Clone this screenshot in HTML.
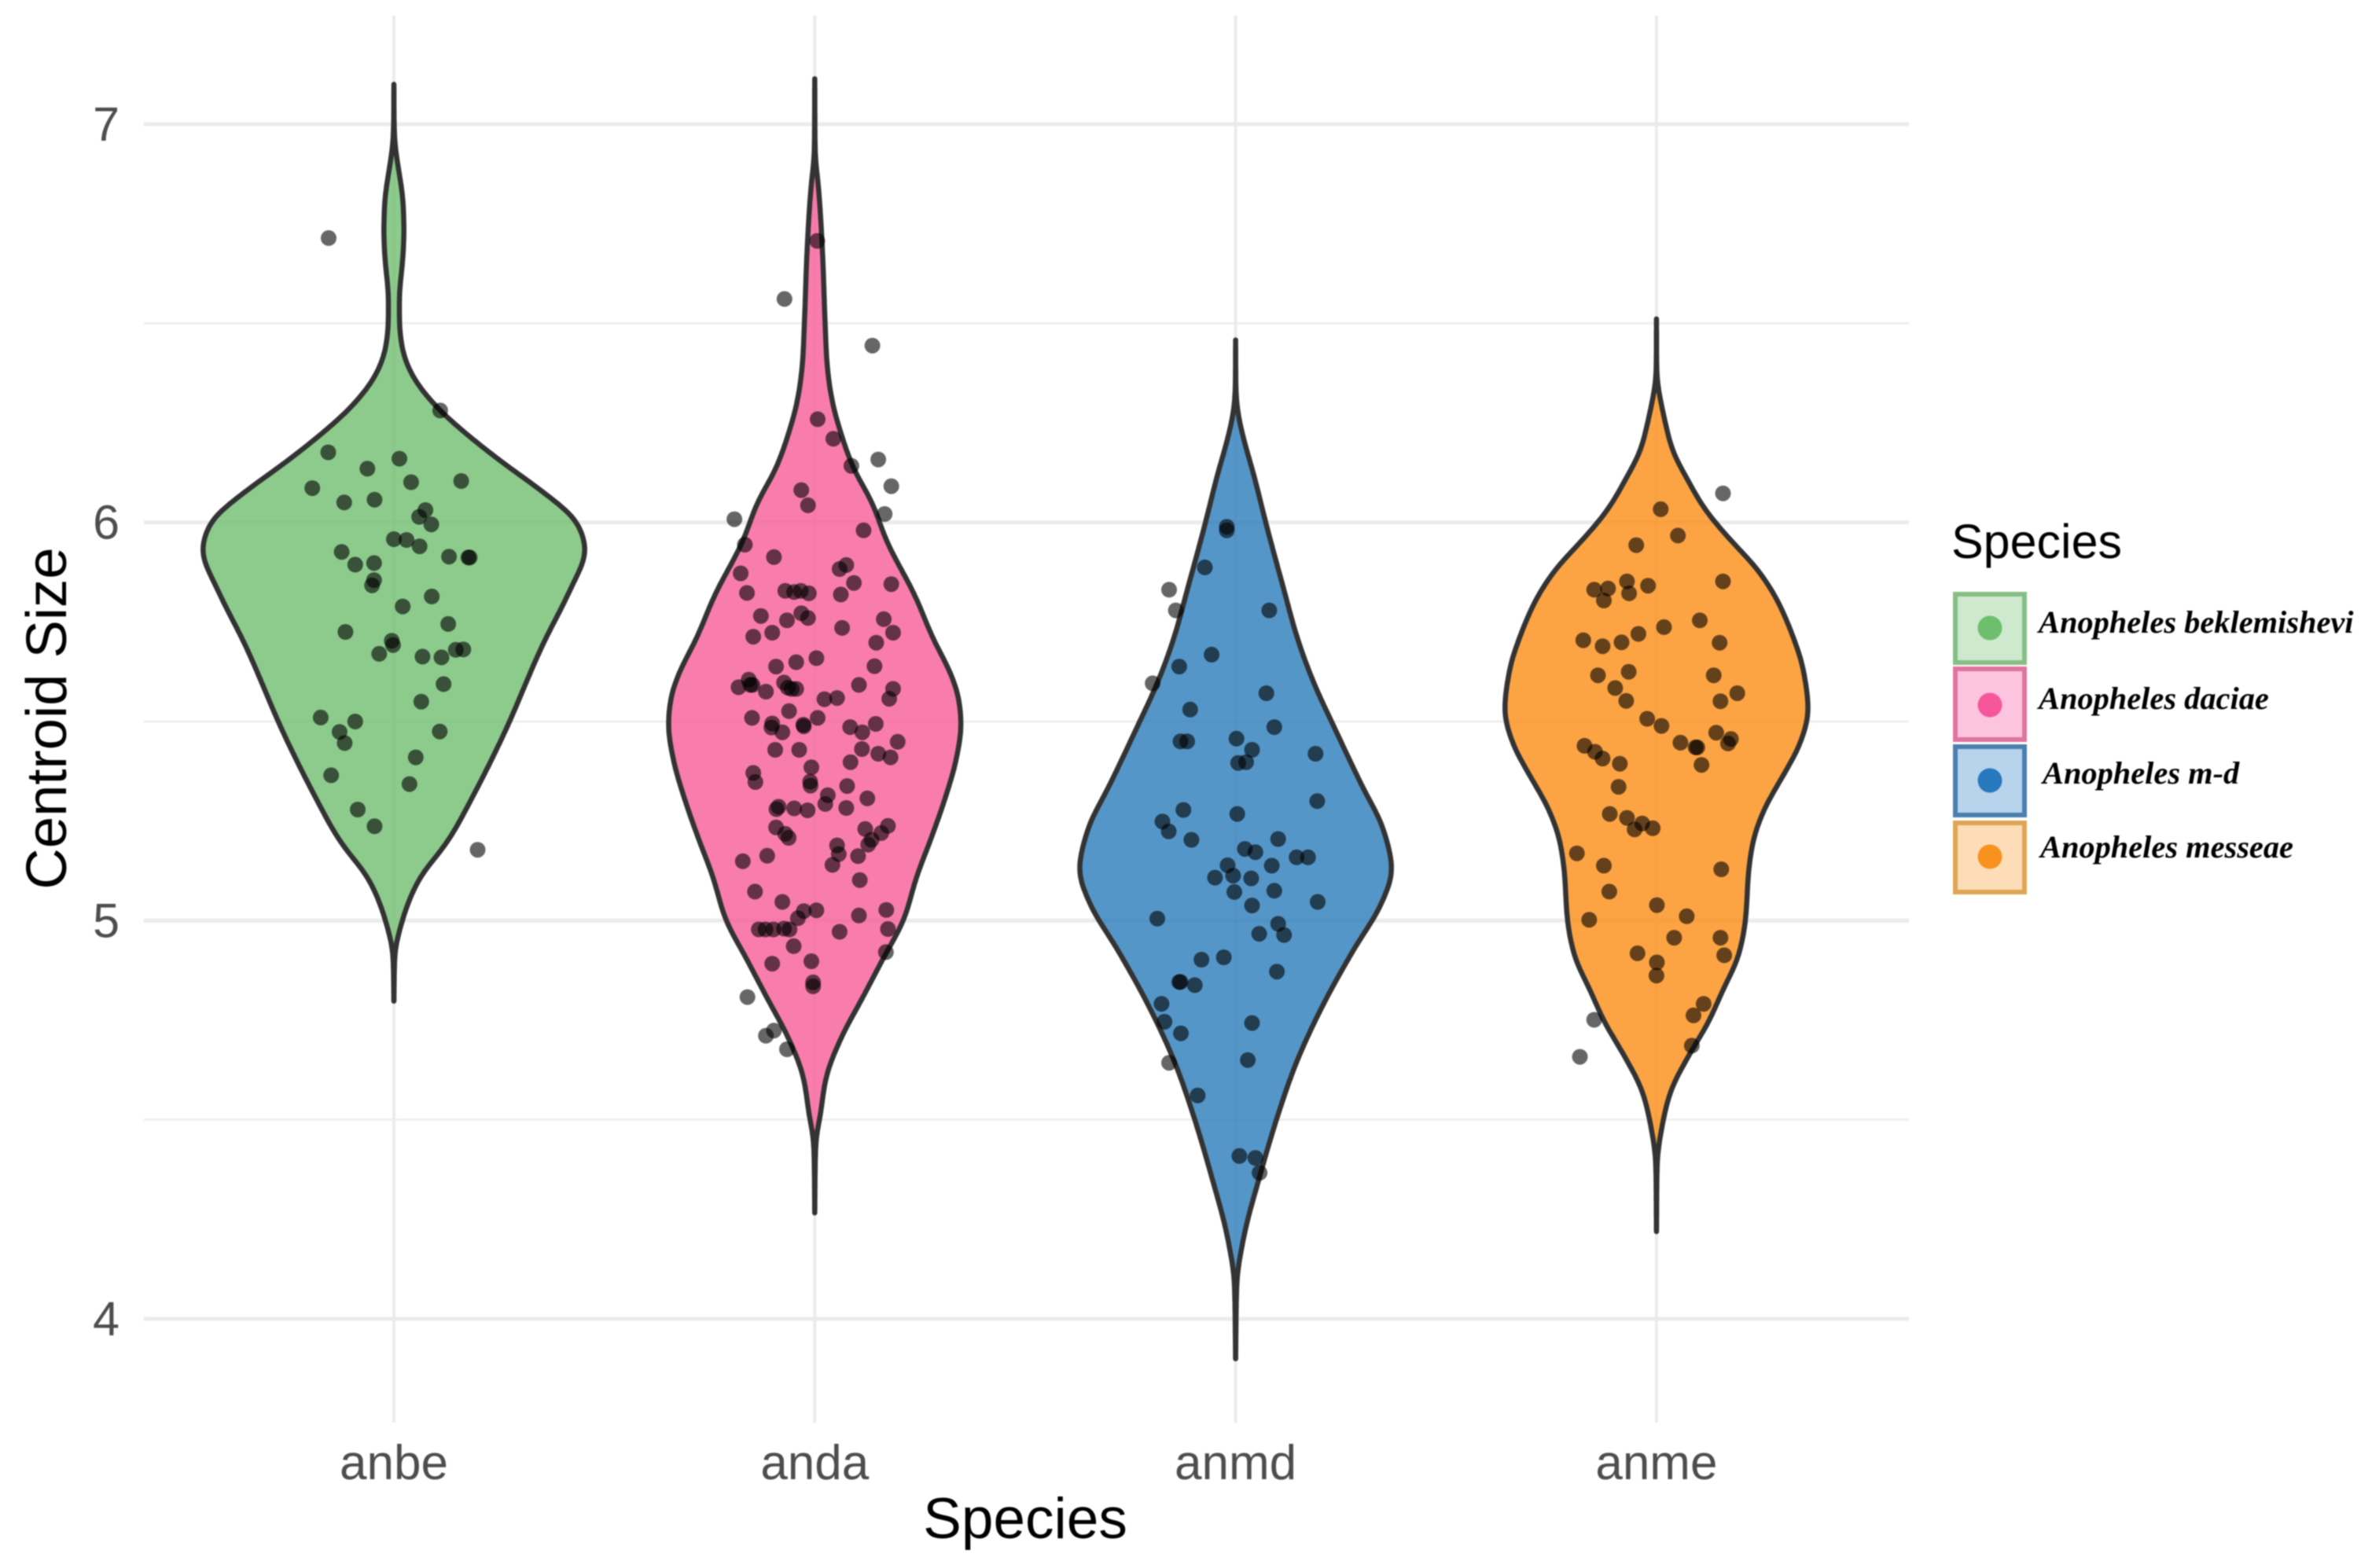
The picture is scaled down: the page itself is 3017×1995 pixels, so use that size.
<!DOCTYPE html>
<html>
<head>
<meta charset="utf-8">
<title>Centroid Size by Species</title>
<style>
html,body{margin:0;padding:0;background:#fff;}
svg{display:block;filter:blur(0.7px);}
text{font-family:"Liberation Sans",sans-serif;}
.legend-label{font-family:"Liberation Serif",serif;font-weight:bold;font-style:italic;font-size:40.4px;fill:#000;}
</style>
</head>
<body>
<svg id="chart" xmlns="http://www.w3.org/2000/svg" width="3017" height="1995" viewBox="0 0 3017 1995">
<rect x="0" y="0" width="3017" height="1995" fill="#ffffff"/>
<g id="grid"></g>
<g id="violins"></g>
<g id="points"></g>
<g id="axes"></g>
<text x="1304" y="1957" font-size="73" text-anchor="middle" fill="#000">Species</text>
<text transform="translate(84,914) rotate(-90)" font-size="72.5" text-anchor="middle" fill="#000">Centroid Size</text>
<g>
<text x="2482" y="710" font-size="61" fill="#000">Species</text>
<g>
<rect x="2487" y="756" width="88" height="87" fill="#CFE9CF" stroke="#85BF85" stroke-width="6"/>
<circle cx="2531" cy="799" r="15.5" fill="#6DBE6D"/>
<text class="legend-label" x="2593" y="805">Anopheles beklemishevi</text>
</g>
<g>
<rect x="2487" y="851" width="88" height="90" fill="#FCC4DF" stroke="#E0749E" stroke-width="6"/>
<circle cx="2531" cy="897" r="15.5" fill="#F5579A"/>
<text class="legend-label" x="2593" y="902">Anopheles daciae</text>
</g>
<g>
<rect x="2487" y="950" width="88" height="87" fill="#B8D3EC" stroke="#4A7FAE" stroke-width="6"/>
<circle cx="2531" cy="993" r="15.5" fill="#2878BE"/>
<text class="legend-label" x="2598" y="997">Anopheles m-d</text>
</g>
<g>
<rect x="2487" y="1047" width="88" height="88" fill="#FCDDB8" stroke="#E0A455" stroke-width="6"/>
<circle cx="2531" cy="1090" r="15.5" fill="#F8921E"/>
<text class="legend-label" x="2595" y="1091">Anopheles messeae</text>
</g>
</g>
</svg>
<script>
const categories = ['anbe','anda','anmd','anme'];
const yTickValues = [4,5,6,7];
const yMinorValues = [4.5,5.5,6.5];
const seriesColors = ['#71BE71','#F75D97','#2B7CBA','#FB8D15'];

const anbeDensityY = [7.100,6.975,6.928,6.881,6.803,6.725,6.647,6.569,6.507,6.429,6.374,6.288,6.218,6.156,6.070,6.000,5.930,5.836,5.696,5.461,5.321,5.196,5.103,4.993,4.915,4.798];
const anbeDensityW = [0,0.001,0.005,0.012,0.022,0.024,0.020,0.013,0.013,0.021,0.041,0.103,0.177,0.251,0.362,0.436,0.456,0.421,0.355,0.258,0.192,0.126,0.059,0.018,0.002,0];
const andaDensityY = [7.114,6.929,6.841,6.665,6.488,6.400,6.312,6.224,6.136,6.048,5.960,5.812,5.711,5.610,5.560,5.490,5.409,5.308,5.208,5.107,5.006,4.906,4.805,4.704,4.603,4.503,4.452,4.382,4.266];
const andaDensityW = [0,0.001,0.009,0.019,0.025,0.029,0.040,0.062,0.092,0.137,0.168,0.240,0.280,0.327,0.342,0.348,0.337,0.310,0.277,0.241,0.213,0.163,0.113,0.062,0.026,0.012,0.003,0.001,0];
const anmdDensityY = [6.458,6.321,6.272,6.206,6.124,5.994,5.830,5.715,5.584,5.502,5.339,5.224,5.126,5.044,4.930,4.766,4.635,4.520,4.357,4.193,4.095,3.900];
const anmdDensityW = [0,0.001,0.006,0.020,0.042,0.073,0.115,0.145,0.191,0.227,0.300,0.353,0.372,0.347,0.282,0.197,0.141,0.103,0.057,0.017,0.003,0];
const anmeDensityY = [6.511,6.366,6.321,6.260,6.184,6.109,6.033,5.958,5.882,5.807,5.731,5.625,5.527,5.444,5.368,5.277,5.202,5.126,5.005,4.915,4.824,4.748,4.658,4.567,4.476,4.401,4.219];
const anmeDensityW = [0,0.001,0.007,0.019,0.037,0.073,0.115,0.174,0.240,0.286,0.318,0.350,0.361,0.341,0.303,0.255,0.230,0.219,0.212,0.196,0.157,0.125,0.075,0.032,0.012,0.002,0];

const anbeJitter = [-0.155,0.199,0.110,-0.156,-0.063,0.013,0.041,0.160,-0.194,-0.118,-0.046,0.075,0.060,0.089,0,0.030,0.061,-0.124,-0.092,-0.047,0.131,0.177,0.180,-0.047,-0.052,0.090,0.021,0.129,-0.115,-0.005,-0.002,-0.035,0.068,0.113,0.147,0.165,0.118,0.065,-0.174,-0.092,-0.129,-0.117,0.109,0.052,-0.149,0.037,-0.086,-0.046];
const anbeValues = [6.714,5.178,6.281,6.176,6.135,6.160,6.101,6.104,6.086,6.050,6.057,6.031,6.014,5.995,5.958,5.956,5.940,5.926,5.894,5.898,5.914,5.912,5.912,5.855,5.842,5.814,5.789,5.745,5.725,5.703,5.692,5.670,5.663,5.661,5.680,5.681,5.594,5.550,5.510,5.500,5.474,5.446,5.475,5.410,5.365,5.343,5.279,5.237];

const andaJitter = [-0.072,0.137,0.006,0.007,0.044,0.087,0.151,0.182,0.166,-0.032,-0.016,-0.191,0.116,-0.166,-0.097,-0.176,0.059,0.075,0.093,0.182,-0.161,-0.070,-0.049,-0.033,-0.014,0.062,
-0.128,-0.066,-0.032,-0.016,0.065,0.164,0.186,-0.101,-0.146,0.146,0.004,-0.044,-0.092,0.142,-0.073,-0.064,-0.055,-0.044,-0.157,-0.153,-0.181,-0.148,-0.116,0.105,0.186,0.177,0.023,0.053,-0.061,-0.149,0.007,-0.101,-0.103,-0.077,-0.027,-0.026,0.084,0.113,0.145,0.197,-0.094,-0.037,0.112,0.151,0.180,0.085,-0.146,-0.141,-0.008,-0.011,-0.010,0.031,0.025,0.077,0.125,0.075,-0.086,-0.091,-0.049,-0.017,-0.092,-0.070,-0.062,0.120,0.174,0.158,0.135,0.127,0.053,0.057,0.042,0.103,-0.113,-0.171,0.107,-0.142,-0.077,0.004,-0.026,-0.040,0.105,0.170,0.174,0.059,-0.133,-0.117,-0.098,-0.073,-0.060,-0.050,0.169,-0.101,-0.008,-0.004,-0.004,-0.160,-0.097,-0.116,-0.066];
const andaValues = [6.561,6.444,6.707,6.259,6.210,6.142,6.158,6.091,6.021,6.081,6.043,6.008,5.980,5.944,5.913,5.872,5.883,5.893,5.848,5.845,5.823,5.828,5.825,5.828,5.822,5.819,
5.765,5.754,5.772,5.760,5.735,5.757,5.723,5.723,5.713,5.698,5.659,5.649,5.638,5.639,5.598,5.585,5.582,5.582,5.605,5.592,5.586,5.592,5.575,5.592,5.582,5.557,5.556,5.559,5.526,5.509,5.509,5.495,5.485,5.473,5.492,5.488,5.486,5.473,5.494,5.449,5.429,5.429,5.431,5.419,5.410,5.398,5.371,5.348,5.385,5.349,5.339,5.315,5.293,5.338,5.307,5.283,5.286,5.280,5.282,5.277,5.234,5.218,5.208,5.230,5.238,5.220,5.203,5.191,5.189,5.167,5.140,5.162,5.163,5.149,5.102,5.073,5.047,5.026,5.024,5.006,5.013,5.027,4.979,4.972,4.978,4.978,4.978,4.980,4.978,4.936,4.921,4.892,4.898,4.845,4.835,4.808,4.724,4.711,4.677];

const anmdJitter = [-0.021,-0.021,-0.073,-0.158,-0.142,0.080,-0.057,-0.134,-0.197,0.073,-0.108,0.092,-0.131,-0.115,0.002,0.039,0.006,0.025,0.190,0.194,-0.124,0.004,-0.174,-0.159,-0.105,0.101,0.022,0.047,0.145,0.172,-0.019,0.086,-0.006,-0.049,0.037,-0.003,0.092,0.039,0.195,-0.186,0.101,0.115,0.056,-0.028,-0.081,0.098,-0.134,-0.131,-0.097,-0.176,-0.169,-0.130,0.039,0.029,-0.158,-0.090,0.009,0.047,0.057];
const anmdValues = [5.989,5.980,5.887,5.831,5.779,5.779,5.668,5.638,5.596,5.571,5.530,5.486,5.450,5.450,5.457,5.429,5.396,5.398,5.419,5.300,5.278,5.268,5.249,5.224,5.203,5.205,5.180,5.172,5.159,5.159,5.139,5.138,5.113,5.108,5.106,5.072,5.075,5.038,5.047,5.005,4.992,4.964,4.967,4.908,4.902,4.872,4.846,4.846,4.838,4.791,4.746,4.717,4.743,4.650,4.643,4.561,4.409,4.404,4.367];

const anmeJitter = [0.158,0.010,0.051,-0.048,0.158,-0.020,-0.070,-0.065,-0.148,-0.115,-0.125,0.103,0.018,-0.043,-0.083,-0.128,-0.174,0.150,0.136,-0.066,-0.139,-0.098,0.192,0.152,-0.072,-0.022,0.012,0.142,0.177,0.170,0.057,0.093,0.097,-0.171,-0.146,-0.128,-0.087,0.107,-0.090,-0.111,-0.070,-0.034,-0.052,-0.009,-0.189,-0.125,0.154,-0.112,0.001,0.072,-0.160,0.042,0.152,0.161,-0.045,0.001,0,0.112,0.088,-0.148,0.084,-0.182];
const anmeValues = [6.073,6.033,5.967,5.943,5.852,5.841,5.852,5.822,5.831,5.834,5.804,5.754,5.737,5.720,5.699,5.689,5.704,5.698,5.616,5.625,5.616,5.584,5.571,5.551,5.552,5.507,5.489,5.472,5.456,5.445,5.447,5.435,5.435,5.439,5.424,5.407,5.394,5.391,5.336,5.268,5.258,5.244,5.229,5.232,5.169,5.138,5.129,5.073,5.039,5.011,5.002,4.957,4.957,4.913,4.918,4.895,4.862,4.791,4.762,4.751,4.686,4.658];

const densityYs = [anbeDensityY, andaDensityY, anmdDensityY, anmeDensityY];
const densityWs = [anbeDensityW, andaDensityW, anmdDensityW, anmeDensityW];
const jitters = [anbeJitter, andaJitter, anmdJitter, anmeJitter];
const values = [anbeValues, andaValues, anmdValues, anmeValues];

const NS = 'http://www.w3.org/2000/svg';
function yScale(v){ return 158 + (7 - v) * 506.67; }
function xScale(c){ return 501 + c * 535.3; }

function make(parent, tag, attrs){
  const el = document.createElementNS(NS, tag);
  for (const k in attrs) el.setAttribute(k, attrs[k]);
  parent.appendChild(el);
  return el;
}

/* monotone cubic interpolation, then a light kernel smooth, like a density estimate */
function interpolator(ys, ws){
  const n = ys.length, d = [], m = [];
  for (let i = 0; i < n - 1; i++) d.push((ws[i+1] - ws[i]) / (ys[i+1] - ys[i]));
  for (let i = 0; i < n; i++){
    if (i === 0) m.push(d[0]);
    else if (i === n - 1) m.push(d[n-2]);
    else if (d[i-1] * d[i] <= 0) m.push(0);
    else {
      const h0 = ys[i] - ys[i-1], h1 = ys[i+1] - ys[i];
      m.push((h0 + h1) / (h1 / d[i-1] + h0 / d[i]));
    }
  }
  return function(t){
    let i = 0;
    while (i < n - 2 && t < ys[i+1]) i++;
    const h = ys[i+1] - ys[i], s = (t - ys[i]) / h;
    const s2 = s*s, s3 = s2*s;
    return (2*s3-3*s2+1)*ws[i] + (s3-2*s2+s)*h*m[i] + (-2*s3+3*s2)*ws[i+1] + (s3-s2)*h*m[i+1];
  };
}

function smoothProfile(ys, ws){
  const f = interpolator(ys, ws);
  const top = ys[0], bottom = ys[ys.length-1], step = 0.005, sigma = 0.022;
  const count = Math.round((top - bottom) / step);
  const raw = [], out = [];
  for (let i = 0; i <= count; i++) raw.push(Math.max(0, f(top - (top - bottom) * i / count)));
  const radius = Math.ceil(3 * sigma / step);
  for (let i = 0; i <= count; i++){
    let sum = 0, weight = 0;
    for (let k = -radius; k <= radius; k++){
      const g = Math.exp(-0.5 * Math.pow(k * step / sigma, 2));
      const j = i + k;
      sum += g * (j >= 0 && j <= count ? raw[j] : 0);
      weight += g;
    }
    out.push([top - (top - bottom) * i / count, sum / weight]);
  }
  return out;
}

function violinPath(c, ys, ws){
  const samples = smoothProfile(ys, ws);
  let right = '', left = '';
  samples.forEach(function(p, idx){
    right += (idx ? 'L' : 'M') + xScale(c + p[1]).toFixed(1) + ' ' + yScale(p[0]).toFixed(1);
  });
  for (let j = samples.length - 1; j >= 0; j--){
    left += 'L' + xScale(c - samples[j][1]).toFixed(1) + ' ' + yScale(samples[j][0]).toFixed(1);
  }
  return right + left + 'Z';
}

const grid = document.getElementById('grid');
const axes = document.getElementById('axes');
const violins = document.getElementById('violins');
const pointsGroup = document.getElementById('points');

yMinorValues.forEach(function(v){
  const line = make(grid, 'line', {x1:183, x2:2428, y1:yScale(v), y2:yScale(v), stroke:'#EFEFEF', 'stroke-width':3});
  
  
});
yTickValues.forEach(function(v){
  const line = make(grid, 'line', {x1:183, x2:2428, y1:yScale(v), y2:yScale(v), stroke:'#EBEBEB', 'stroke-width':5});
  
  
  const label = make(axes, 'text', {x:152, y:yScale(v) + 21, 'font-size':61, 'text-anchor':'end', fill:'#4D4D4D'});
  
  
  label.textContent = v;
});
categories.forEach(function(cat, c){
  const line = make(grid, 'line', {x1:xScale(c), x2:xScale(c), y1:20, y2:1810, stroke:'#EBEBEB', 'stroke-width':4});
  
  
  const label = make(axes, 'text', {x:xScale(c), y:1882, 'font-size':62, 'text-anchor':'middle', fill:'#4D4D4D'});
  
  
  label.textContent = cat;

  const path = make(violins, 'path', {d:violinPath(c, densityYs[c], densityWs[c]), fill:seriesColors[c], 'fill-opacity':0.8, stroke:'#333333', 'stroke-width':6.5, 'stroke-linejoin':'round'});
  
  
});
categories.forEach(function(cat, c){
  values[c].forEach(function(v, i){
    const dot = make(pointsGroup, 'circle', {cx:xScale(c + jitters[c][i]).toFixed(1), cy:yScale(v).toFixed(1), r:10, fill:'#000000', 'fill-opacity':0.6});
    
    
  });
});
</script>
</body>
</html>
